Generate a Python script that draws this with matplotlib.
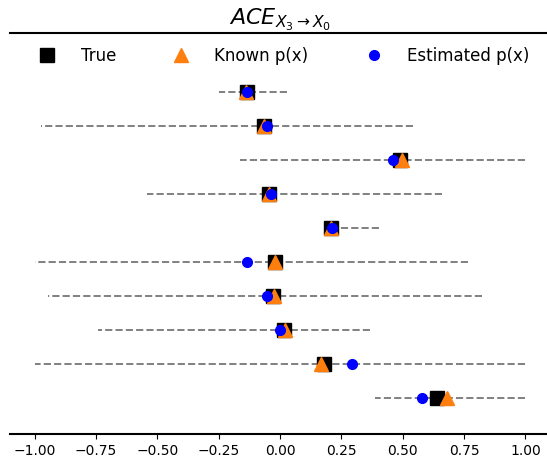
import numpy as np
import matplotlib.pyplot as plt

# values read top row -> bottom row
true_ace = [-0.136, -0.065, 0.488, -0.043, 0.209, -0.020, -0.027, 0.017, 0.178, 0.641]
known_px = [-0.140, -0.065, 0.498, -0.045, 0.209, -0.020, -0.025, 0.020, 0.165, 0.682]
est_px = [-0.133, -0.051, 0.459, -0.035, 0.213, -0.133, -0.055, 0.002, 0.292, 0.580]
ci_low = [-0.250, -0.972, -0.163, -0.541, 0.190, -1.000, -0.944, -0.743, -1.000, 0.387]
ci_high = [0.030, 0.542, 1.000, 0.661, 0.405, 0.765, 0.823, 0.365, 1.000, 1.000]

n = len(true_ace)
ypos = np.arange(n)[::-1]

fig = plt.figure(figsize=(5.47, 4.61), dpi=100)
ax = fig.add_axes([10/547, 27/461, 540/547, 401/461])

for i in range(n):
    ax.plot([ci_high[i], ci_low[i]], [ypos[i], ypos[i]], ls="--", color="gray", lw=1.4, zorder=1)

ax.plot(true_ace, ypos, "s", color="black", ms=10, ls="none", label="True", zorder=2)
ax.plot(known_px, ypos, "^", color="#ff7f0e", ms=10, ls="none", label="Known p(x)", zorder=3)
ax.plot(est_px, ypos, "o", color="blue", ms=7, ls="none", label="Estimated p(x)", zorder=4)

ax.set_xlim(-1.1, 1.1)
ax.set_ylim(-1.05, 10.74)
ax.set_yticks([])
ax.set_xticks([-1.0, -0.75, -0.5, -0.25, 0.0, 0.25, 0.5, 0.75, 1.0])
ax.tick_params(axis="x", labelsize=10)
ax.spines["left"].set_visible(False)
ax.spines["right"].set_visible(False)
ax.spines["top"].set_linewidth(1.5)
ax.spines["bottom"].set_linewidth(1.5)
ax.set_title(r"$ACE_{X_3\rightarrow X_0}$", fontsize=16, pad=4)

ax.legend(loc="center", bbox_to_anchor=(0.5, 0.9426), ncol=3, frameon=False,
          fontsize=12, handletextpad=1.0, columnspacing=2.9)

fig.savefig("out.png", dpi=100)
